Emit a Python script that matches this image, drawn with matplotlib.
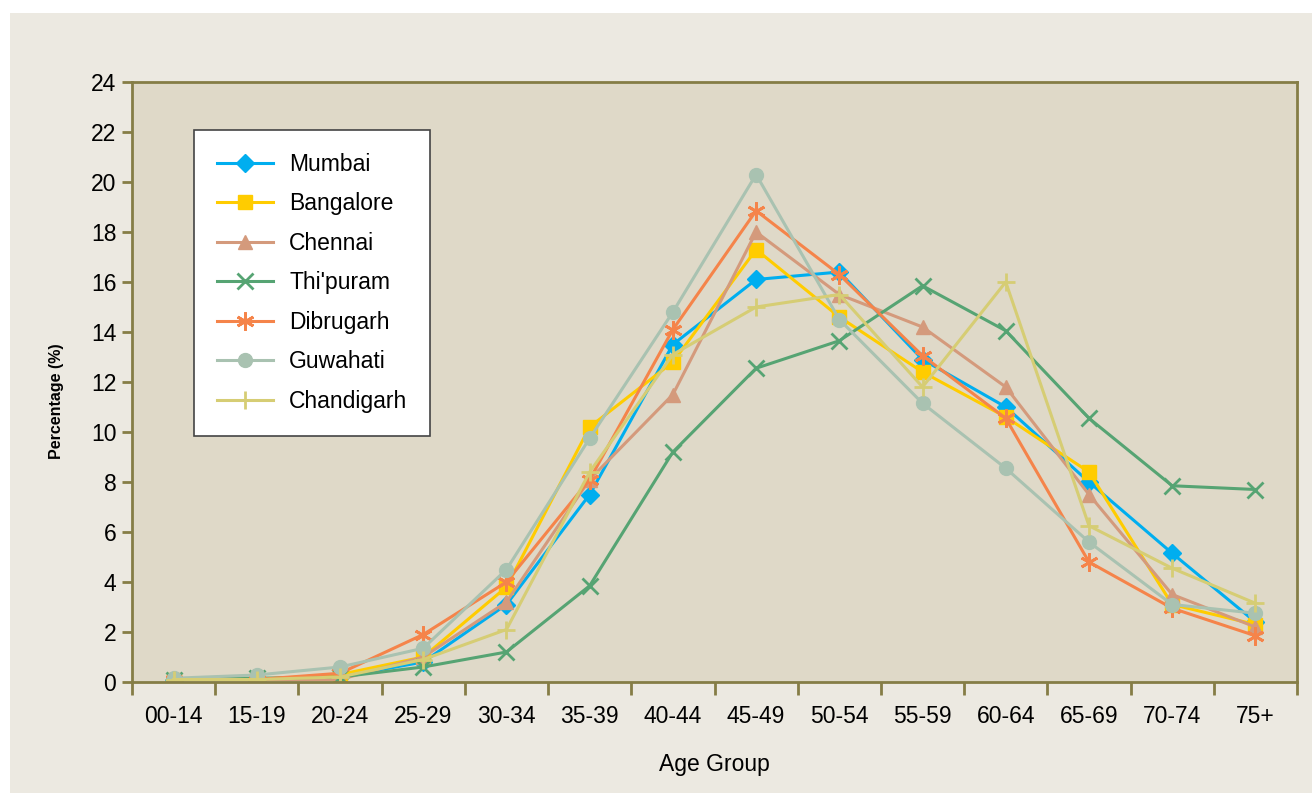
import matplotlib
matplotlib.use("Agg")
import matplotlib.pyplot as plt
from matplotlib.patches import Rectangle

age_groups = ["00-14", "15-19", "20-24", "25-29", "30-34", "35-39", "40-44",
              "45-49", "50-54", "55-59", "60-64", "65-69", "70-74", "75+"]

mumbai     = [0.1, 0.1, 0.2, 0.8, 3.1, 7.5, 13.5, 16.1, 16.4, 12.9, 11.0, 8.0, 5.15, 2.4]
bangalore  = [0.1, 0.1, 0.3, 1.0, 3.8, 10.2, 12.8, 17.3, 14.6, 12.4, 10.6, 8.4, 3.1, 2.3]
chennai    = [0.1, 0.1, 0.1, 1.0, 3.2, 8.1, 11.5, 18.0, 15.5, 14.2, 11.8, 7.5, 3.5, 2.2]
thipuram   = [0.1, 0.15, 0.2, 0.6, 1.2, 3.85, 9.2, 12.55, 13.65, 15.85, 14.05, 10.55, 7.85, 7.7]
dibrugarh  = [0.1, 0.1, 0.35, 1.9, 4.0, 8.1, 14.1, 18.85, 16.3, 13.05, 10.55, 4.8, 2.95, 1.85]
guwahati   = [0.15, 0.28, 0.6, 1.35, 4.5, 9.75, 14.8, 20.3, 14.5, 11.15, 8.55, 5.6, 3.1, 2.75]
chandigarh = [0.1, 0.1, 0.2, 0.9, 2.1, 8.4, 13.1, 15.0, 15.5, 11.8, 16.0, 6.25, 4.55, 3.15]

series = [
    ("Mumbai", mumbai, "#00AEEF", "D", 9),
    ("Bangalore", bangalore, "#FFCC00", "s", 10),
    ("Chennai", chennai, "#D49A7C", "^", 10),
    ("Thi'puram", thipuram, "#56A473", "x", 11),
    ("Dibrugarh", dibrugarh, "#F5844A", (6, 2, 0), 13),
    ("Guwahati", guwahati, "#A9C2B1", "o", 10),
    ("Chandigarh", chandigarh, "#D6CD74", "+", 13),
]

plt.rcParams['font.family'] = ['Liberation Sans', 'DejaVu Sans']

fig = plt.figure(figsize=(13.12, 7.93), dpi=100)
fig.patch.set_facecolor("white")
fig.patches.append(Rectangle((10 / 1312, 0), 1 - 10 / 1312, 1 - 13 / 793,
                             transform=fig.transFigure, facecolor="#ECE9E1",
                             edgecolor="none", zorder=-10))

ax = fig.add_axes([132 / 1312, 1 - 682 / 793, (1297 - 132) / 1312, 600 / 793])
ax.set_facecolor("#DFD9C8")

x = list(range(len(age_groups)))
for name, vals, color, marker, ms in series:
    mew = 2 if marker in ("x", "+", (6, 2, 0)) else 1
    ax.plot(x, vals, color=color, marker=marker, markersize=ms, linewidth=2.2,
            markeredgewidth=mew, markeredgecolor=color, label=name)

ax.set_xlim(-0.5, len(age_groups) - 0.5)
ax.set_ylim(0, 24)
ax.set_yticks(range(0, 25, 2))
ax.set_xticks(x)
ax.set_xticklabels(age_groups)
ax.set_xticks([i - 0.5 for i in range(len(age_groups) + 1)], minor=True)

spine_color = "#857D46"
for s in ax.spines.values():
    s.set_color(spine_color)
    s.set_linewidth(2)

ax.tick_params(axis="x", which="major", length=0, pad=16.5, labelsize=16.5)
ax.tick_params(axis="x", which="minor", length=9, width=2, color=spine_color)
ax.tick_params(axis="y", which="major", length=7, width=2, color=spine_color,
               pad=4.3, labelsize=16.5)

ax.set_xlabel("Age Group", fontsize=16.5, labelpad=18)
ax.set_ylabel("Percentage (%)", fontsize=11.5, fontweight="bold")
ax.yaxis.set_label_coords((57 - 132) / 1165, (682 - 401) / 600)
ax.yaxis.label.set_va("center")

leg = ax.legend(loc="upper left", bbox_to_anchor=((194 - 132) / 1165, (682 - 130) / 600),
                borderaxespad=0, fontsize=16.5, frameon=True, fancybox=False,
                handlelength=2.45, labelspacing=0.72, borderpad=1.0,
                handletextpad=0.7)
leg.get_frame().set_edgecolor("#444444")
leg.get_frame().set_facecolor("white")
leg.get_frame().set_alpha(1)
leg.get_frame().set_linewidth(1.2)

fig.savefig("out.png", dpi=100, facecolor=fig.get_facecolor())
